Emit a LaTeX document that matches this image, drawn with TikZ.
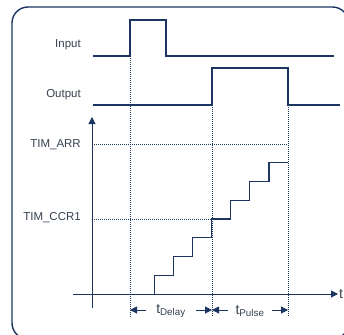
\documentclass[tikz,border=0pt]{standalone}
\usepackage{fontspec}
\setmainfont{Liberation Sans}
\usetikzlibrary{arrows.meta}
\definecolor{sig}{HTML}{1B3560}
\definecolor{lbl}{HTML}{36414D}
\tikzset{
  sigline/.style={sig, line width=1.2pt},
  guide/.style={sig, line width=0.7pt, dash pattern=on 1pt off 1pt},
  axis/.style={sig, line width=1pt, -{Triangle[length=7pt,width=7pt]}},
  lab/.style={lbl, anchor=east, inner sep=0pt, font=\fontsize{11.5}{13}\selectfont},
  tlab/.style={lbl, inner sep=0pt, font=\fontsize{14}{16}\selectfont},
}
\begin{document}
\begin{tikzpicture}[x=1pt, y=-1pt]
  \useasboundingbox (0,0) rectangle (344,334);
  \draw [sig, line width=1.4pt, rounded corners=16pt] (12,7) rectangle (348.5,339);

  \node [lab] (in)   at (81,45)  {Input};
  \node [lab] (out)  at (81,95)  {Output};
  \node [lab] (arr)  at (81,145) {TIM\_ARR};
  \node [lab] (ccr)  at (81,218) {TIM\_CCR1};

  \coordinate (ya) at (92,117);
  \coordinate (yb) at (92,308);
  \coordinate (xa) at (73,294);
  \coordinate (xb) at (338,294);
  \node [tlab, anchor=west] (t) at (339,294) {t};

  \draw [guide] (130,56) -- (130,317);
  \draw [guide] (212,105) -- (212,317);
  \draw [guide] (288,105) -- (288,317);
  \draw [guide] (92,144) -- (288,144);
  \draw [guide] (92,219) -- (212,219);

  \draw [sigline] (93,56) -- (130,56) -- (130,20) -- (166,20) -- (166,56) -- (334,56);
  \draw [sigline] (93,105) -- (212,105) -- (212,68) -- (288,68) -- (288,105) -- (340,105);

  \draw [axis] (yb) -- (ya);
  \draw [axis] (xa) -- (xb);

  \draw [sigline] (154.3,294) \foreach \k in {1,...,7} { -- ++(0,-18.76) -- ++(19.1,0) };

  \draw [axis] (146,310) -- (130,310);
  \draw [axis] (196,310) -- (212,310);
  \draw [axis] (228,310) -- (212,310);
  \draw [axis] (272,310) -- (288,310);
  \node [tlab] (dly) at (171,311) {t\textsubscript{Delay}};
  \node [tlab] (pls) at (250,311) {t\textsubscript{Pulse}};
\end{tikzpicture}
\end{document}
